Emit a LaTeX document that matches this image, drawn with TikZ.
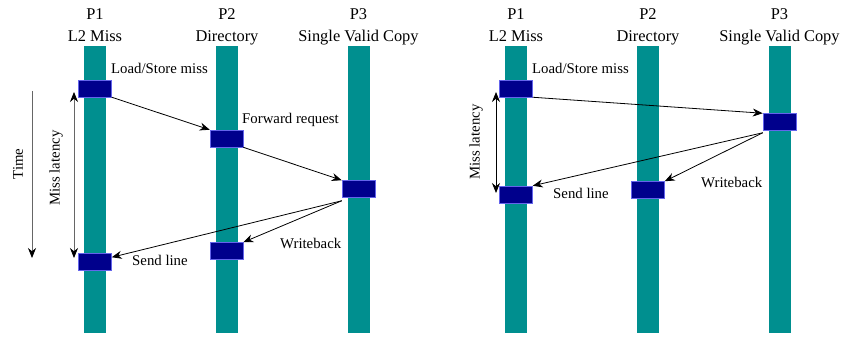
\documentclass[tikz,border=0pt]{standalone}
\usepackage{fontspec}
\setmainfont{Liberation Serif}
\usetikzlibrary{calc,arrows.meta}
\definecolor{verdeagua}{RGB}{0,143,143}
\definecolor{marinho}{RGB}{0,0,140}
\definecolor{bordaazul}{RGB}{100,100,235}
\tikzset{barra/.style={fill=verdeagua,draw=none,minimum width=22pt,minimum height=287pt,inner sep=0pt}}
\tikzset{bloco/.style={fill=marinho,draw=bordaazul,line width=0.5pt,minimum width=33pt,minimum height=17pt,inner sep=0pt}}
\begin{document}
\begin{tikzpicture}[x=1pt,y=-1pt,>={Stealth[length=10pt,width=8pt,black]},
                    titulo/.style={anchor=base,inner sep=0pt,font=\fontsize{16.4}{18}\selectfont},
                    rotulo/.style={anchor=base west,inner sep=0pt,font=\fontsize{14.8}{17}\selectfont},
                    msg/.style={->,line width=0.8pt,black},
                    eixo/.style={line width=0.8pt,gray!80!black}]

		\useasboundingbox (0,0) rectangle (855,337);

		% As barras dos processadores e seus títulos (dois diagramas)
		\foreach \d/\dx in {a/0,b/421} {
			\node [barra] (\d bar1) at (95+\dx,189.5) {};
			\node [barra] (\d bar2) at (227+\dx,189.5) {};
			\node [barra] (\d bar3) at (358.5+\dx,189.5) {};
			\node [titulo] (\d p1) at (95+\dx,20) {P1};
			\node [titulo] (\d t1) at (95+\dx,42) {L2 Miss};
			\node [titulo] (\d p2) at (227+\dx,20) {P2};
			\node [titulo] (\d t2) at (227+\dx,42) {Directory};
			\node [titulo] (\d p3) at (358.5+\dx,20) {P3};
			\node [titulo] (\d t3) at (358.5+\dx,42) {Single Valid Copy};
		}

		% Diagrama da esquerda: os blocos
		\node [bloco] (a1) at (95,88.5) {};
		\node [bloco] (a2) at (226.5,138.5) {};
		\node [bloco] (a3) at (358.5,189) {};
		\node [bloco] (a4) at (226.5,251) {};
		\node [bloco] (a5) at (95,262) {};

		% As mensagens
		\draw [msg] (a1.south east) -- (a2.north west);
		\draw [msg] (a2.south east) -- (a3.north west);
		\draw [msg] ($(a3.south west)+(0,3)$) -- ($(a5.north east)+(0,4)$);
		\draw [msg] ($(a3.south west)+(0,3)$) -- (a4.north east);

		% Rótulos das mensagens
		\node [rotulo] (lsa) at (111,74) {Load/Store miss};
		\node [rotulo] (fwd) at (242,124) {Forward request};
		\node [rotulo] (wba) at (280,248) {Writeback};
		\node [rotulo] (sla) at (132,265) {Send line};

		% Flecha do tempo
		\coordinate (tempo topo) at (32,91);
		\coordinate (tempo base) at (32,258);
		\draw [eixo,->] (tempo topo) -- (tempo base);
		\node [rotate=90,inner sep=0pt,font=\fontsize{14.8}{17}\selectfont] (tempo) at (18,164) {Time};

		% Flecha da latência
		\coordinate (lat topo a) at (74,92);
		\coordinate (lat base a) at (74,258);
		\draw [eixo,<->] (lat topo a) -- (lat base a);
		\node [rotate=90,inner sep=0pt,font=\fontsize{14.8}{17}\selectfont] (lata) at (56,168) {Miss latency};

		% Diagrama da direita: os blocos
		\node [bloco] (b1) at (516,88.5) {};
		\node [bloco] (b3) at (779.5,122) {};
		\node [bloco] (b4) at (648,190) {};
		\node [bloco] (b5) at (516,194.5) {};

		% As mensagens
		\draw [msg] (b1.south east) -- (b3.north west);
		\draw [msg] ($(b3.south west)+(0,2)$) -- (b5.north east);
		\draw [msg] ($(b3.south west)+(0,2)$) -- (b4.north east);

		% Rótulos das mensagens
		\node [rotulo] (lsb) at (532,74) {Load/Store miss};
		\node [rotulo] (wbb) at (701,187) {Writeback};
		\node [rotulo] (slb) at (553,198) {Send line};

		% Flecha da latência
		\coordinate (lat topo b) at (496,92);
		\coordinate (lat base b) at (496,193);
		\draw [line width=0.8pt,<->] (lat topo b) -- (lat base b);
		\node [rotate=90,inner sep=0pt,font=\fontsize{14.8}{17}\selectfont] (latb) at (476,142) {Miss latency};

	\end{tikzpicture}
\end{document}
